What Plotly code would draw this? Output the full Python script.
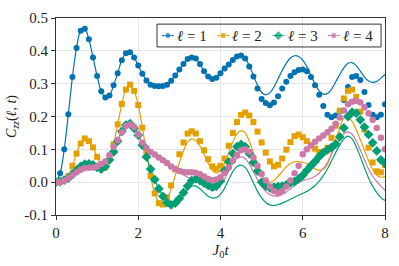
import plotly.graph_objects as go

# time grid (J0 t), step 0.1
t = [round(i * 0.1, 1) for i in range(81)]

# numerical data (markers)
blue_pts = [0.0, 0.027, 0.10, 0.207, 0.32, 0.409, 0.461, 0.467, 0.435, 0.38,
            0.323, 0.277, 0.258, 0.264, 0.295, 0.332, 0.371, 0.393, 0.396, 0.38,
            0.355, 0.33, 0.31, 0.297, 0.293, 0.292, 0.293, 0.297, 0.309, 0.325,
            0.343, 0.36, 0.375, 0.38, 0.377, 0.36, 0.338, 0.322, 0.314, 0.318,
            0.332, 0.346, 0.358, 0.372, 0.383, 0.386, 0.377, 0.352, 0.322, 0.285,
            0.253, 0.241, 0.234, 0.243, 0.262, 0.285, 0.306, 0.323, 0.335, 0.342,
            0.343, 0.338, 0.32, 0.295, 0.266, 0.232, 0.205, 0.198, 0.203, 0.217,
            0.25, 0.29, 0.32, 0.323, 0.311, 0.275, 0.235, 0.205, 0.198, 0.205,
            0.237]
orange_pts = [0.0, 0.003, 0.008, 0.019, 0.05, 0.087, 0.118, 0.133, 0.125, 0.106,
              0.077, 0.055, 0.045, 0.07, 0.115, 0.176, 0.238, 0.282, 0.297, 0.278,
              0.235, 0.166, 0.092, 0.019, -0.034, -0.064, -0.068, -0.046, -0.01, 0.039,
              0.085, 0.121, 0.148, 0.155, 0.148, 0.125, 0.097, 0.07, 0.048, 0.041,
              0.05, 0.072, 0.111, 0.15, 0.183, 0.205, 0.212, 0.203, 0.183, 0.154,
              0.121, 0.09, 0.063, 0.048, 0.053, 0.072, 0.099, 0.122, 0.14, 0.145,
              0.137, 0.125, 0.113, 0.102, 0.092, 0.09, 0.105, 0.135, 0.172, 0.218,
              0.255, 0.278, 0.282, 0.26, 0.215, 0.16, 0.105, 0.06, 0.033, 0.03,
              0.052]
green_pts = [0.0, 0.002, 0.006, 0.012, 0.024, 0.036, 0.048, 0.055, 0.056, 0.053,
             0.045, 0.04, 0.048, 0.068, 0.092, 0.125, 0.155, 0.174, 0.178, 0.164,
             0.143, 0.113, 0.077, 0.04, 0.008, -0.02, -0.043, -0.062, -0.069, -0.064,
             -0.05, -0.032, -0.012, 0.005, 0.01, 0.005, -0.003, -0.01, -0.015, -0.012,
             0.003, 0.035, 0.062, 0.087, 0.108, 0.115, 0.108, 0.087, 0.06, 0.034,
             0.0, -0.012, -0.017, -0.015, -0.013, -0.012, -0.008, -0.002, 0.002, 0.01,
             0.021, 0.036, 0.05, 0.063, 0.078, 0.09, 0.098, 0.106, 0.116, 0.138,
             0.165, 0.2, 0.213, 0.21, 0.19, 0.168, 0.145, 0.12, 0.095, 0.068,
             0.058]
pink_pts = [0.0, 0.0, 0.005, 0.012, 0.021, 0.03, 0.038, 0.043, 0.044, 0.045,
            0.048, 0.055, 0.063, 0.082, 0.108, 0.128, 0.152, 0.171, 0.176, 0.168,
            0.145, 0.12, 0.104, 0.092, 0.084, 0.075, 0.067, 0.058, 0.048, 0.04,
            0.034, 0.031, 0.03, 0.03, 0.029, 0.024, 0.017, 0.01, 0.006, 0.008,
            0.015, 0.028, 0.045, 0.065, 0.083, 0.097, 0.1, 0.093, 0.075, 0.05,
            0.025, 0.005, -0.013, -0.027, -0.033, -0.027, -0.013, 0.005, 0.027, 0.05,
            0.085, 0.1, 0.112, 0.123, 0.133, 0.142, 0.152, 0.163, 0.178, 0.197,
            0.218, 0.237, 0.245, 0.248, 0.243, 0.228, 0.21, 0.19, 0.165, 0.135,
            0.1]

# theory curves (lines)
blue_line = [0.0, 0.027, 0.10, 0.207, 0.32, 0.409, 0.461, 0.467, 0.435, 0.38,
             0.323, 0.277, 0.258, 0.264, 0.295, 0.332, 0.371, 0.393, 0.396, 0.38,
             0.355, 0.33, 0.31, 0.297, 0.293, 0.292, 0.293, 0.297, 0.309, 0.325,
             0.343, 0.36, 0.375, 0.38, 0.377, 0.36, 0.338, 0.322, 0.314, 0.318,
             0.332, 0.346, 0.358, 0.372, 0.385, 0.39, 0.378, 0.355, 0.325, 0.295,
             0.273, 0.266, 0.272, 0.29, 0.315, 0.34, 0.362, 0.378, 0.385, 0.383,
             0.372, 0.352, 0.325, 0.298, 0.278, 0.268, 0.27, 0.283, 0.305, 0.328,
             0.348, 0.362, 0.364, 0.355, 0.338, 0.32, 0.308, 0.304, 0.307, 0.317,
             0.328]
orange_line = [0.0, 0.003, 0.008, 0.019, 0.05, 0.087, 0.118, 0.133, 0.125, 0.106,
               0.077, 0.055, 0.045, 0.07, 0.115, 0.176, 0.238, 0.282, 0.297, 0.278,
               0.235, 0.166, 0.092, 0.019, -0.034, -0.06, -0.064, -0.05, -0.02, 0.02,
               0.06, 0.095, 0.122, 0.132, 0.127, 0.11, 0.085, 0.058, 0.037, 0.028,
               0.035, 0.058, 0.09, 0.122, 0.147, 0.157, 0.15, 0.125, 0.09, 0.055,
               0.025, 0.006, 0.0, 0.005, 0.018, 0.033, 0.047, 0.057, 0.062, 0.063,
               0.06, 0.057, 0.048, 0.04, 0.036, 0.04, 0.055, 0.09, 0.128, 0.165,
               0.195, 0.197, 0.185, 0.16, 0.13, 0.097, 0.066, 0.04, 0.022, 0.015,
               0.018]
green_line = [0.0, 0.002, 0.006, 0.012, 0.024, 0.036, 0.048, 0.055, 0.056, 0.053,
              0.045, 0.04, 0.048, 0.068, 0.092, 0.125, 0.155, 0.174, 0.178, 0.164,
              0.143, 0.113, 0.077, 0.04, 0.008, -0.02, -0.043, -0.06, -0.066, -0.062,
              -0.05, -0.035, -0.02, -0.012, -0.012, -0.02, -0.032, -0.043, -0.048, -0.047,
              -0.037, -0.018, 0.008, 0.032, 0.048, 0.052, 0.045, 0.025, -0.002, -0.028,
              -0.048, -0.062, -0.069, -0.071, -0.068, -0.064, -0.058, -0.052, -0.046, -0.04,
              -0.034, -0.028, -0.02, -0.01, 0.003, 0.02, 0.04, 0.065, 0.09, 0.113,
              0.132, 0.14, 0.132, 0.108, 0.077, 0.044, 0.013, -0.012, -0.032, -0.047,
              -0.056]
pink_line = [0.0, 0.0, 0.005, 0.012, 0.021, 0.03, 0.038, 0.043, 0.044, 0.045,
             0.048, 0.055, 0.063, 0.082, 0.108, 0.128, 0.152, 0.171, 0.176, 0.168,
             0.145, 0.12, 0.104, 0.092, 0.084, 0.075, 0.067, 0.058, 0.048, 0.04,
             0.03, 0.022, 0.015, 0.012, 0.008, 0.0, -0.01, -0.02, -0.025, -0.022,
             -0.01, 0.01, 0.035, 0.057, 0.072, 0.077, 0.072, 0.055, 0.032, 0.008,
             -0.013, -0.028, -0.038, -0.042, -0.042, -0.037, -0.03, -0.02, -0.01, -0.001,
             0.005, 0.008, 0.012, 0.018, 0.028, 0.042, 0.06, 0.085, 0.11, 0.132,
             0.148, 0.153, 0.146, 0.126, 0.098, 0.068, 0.04, 0.018, 0.002, -0.012,
             -0.025]

labels = ["<i>ℓ</i> = 1", "<i>ℓ</i> = 2", "<i>ℓ</i> = 3", "<i>ℓ</i> = 4"]
colors = ["#0072B2", "#E69F00", "#009E73", "#CC79A7"]
symbols = ["circle", "square", "diamond", "circle"]
sizes = [6, 6, 7.5, 6.5]

x_ticks = [0, 2, 4, 6, 8]
y_ticks = [-0.1, 0.0, 0.1, 0.2, 0.3, 0.4, 0.5]
y_ticktext = ["-0.1", "0.0", "0.1", "0.2", "0.3", "0.4", "0.5"]

pts = [blue_pts, orange_pts, green_pts, pink_pts]
lines = [blue_line, orange_line, green_line, pink_line]

SERIF = "Liberation Serif"

# legend layout (fractions of the plot area)
LEG_X0, LEG_X1, LEG_Y0, LEG_Y1 = 0.307, 0.988, 0.853, 0.969
LEG_FIRST, LEG_STEP, LEG_HALF, LEG_TXT = 0.340, 0.168, 0.018, 0.022
LEG_YC = (LEG_Y0 + LEG_Y1) / 2

fig = go.Figure()
for ln, c in zip(lines, colors):
    fig.add_trace(go.Scatter(x=t, y=ln, mode="lines", line=dict(color=c, width=1.2, shape="spline"),
                             showlegend=False, hoverinfo="skip"))
for p, c, s, sz, lab in zip(pts, colors, symbols, sizes, labels):
    fig.add_trace(go.Scatter(x=t, y=p, mode="markers", marker=dict(color=c, symbol=s, size=sz),
                             name=lab, showlegend=False))

# legend glyphs on an overlay axis spanning the plot area
for i, (lab, c, s, sz) in enumerate(zip(labels, colors, symbols, sizes)):
    xm = LEG_FIRST + i * LEG_STEP
    fig.add_trace(go.Scatter(x=[xm - LEG_HALF, xm, xm + LEG_HALF], y=[LEG_YC] * 3,
                             xaxis="x2", yaxis="y2", mode="lines+markers",
                             line=dict(color=c, width=1.2),
                             marker=dict(color=c, symbol=s, size=[0, sz, 0]),
                             showlegend=False, hoverinfo="skip"))
    fig.add_annotation(x=xm + LEG_TXT, y=LEG_YC, xref="x2", yref="y2", text=lab,
                       showarrow=False, xanchor="left", yanchor="middle",
                       font=dict(family=SERIF, size=15, color="#222"))

fig.add_shape(type="rect", xref="x2", yref="y2", x0=LEG_X0, x1=LEG_X1, y0=LEG_Y0, y1=LEG_Y1,
              line=dict(color="#333", width=1), layer="above")

fig.update_layout(
    width=399, height=266,
    margin=dict(l=56, r=11, t=10.5, b=47.5),
    paper_bgcolor="white", plot_bgcolor="white",
    font=dict(family=SERIF, size=14, color="#222"),
    showlegend=False,
    xaxis2=dict(overlaying="x", range=[0, 1], visible=False, fixedrange=True),
    yaxis2=dict(overlaying="y", range=[0, 1], visible=False, fixedrange=True),
)
fig.layout.xaxis.update(range=[0, 8], tickvals=x_ticks, showgrid=True, gridcolor="#e6e6e6", gridwidth=1,
                        showline=True, linecolor="#333", linewidth=1, mirror=True,
                        ticks="outside", ticklen=4, tickcolor="#333", zeroline=False,
                        tickfont=dict(family=SERIF, size=15),
                        title=dict(text="<i>J</i><sub>0</sub><i>t</i>", standoff=4,
                                   font=dict(family=SERIF, size=15)))
fig.layout.yaxis.update(range=[-0.1, 0.5], tickvals=y_ticks, ticktext=y_ticktext, showgrid=True,
                        gridcolor="#e6e6e6", gridwidth=1,
                        showline=True, linecolor="#333", linewidth=1, mirror=True,
                        ticks="outside", ticklen=4, tickcolor="#333", zeroline=False,
                        tickfont=dict(family=SERIF, size=15),
                        title=dict(text="<i>C</i><sub><i>zz</i></sub>(<i>ℓ</i>, <i>t</i>)", standoff=4,
                                   font=dict(family=SERIF, size=14)))

fig.write_html("out.html", post_script="document.body.style.margin='0';",
               config={"displayModeBar": False})
